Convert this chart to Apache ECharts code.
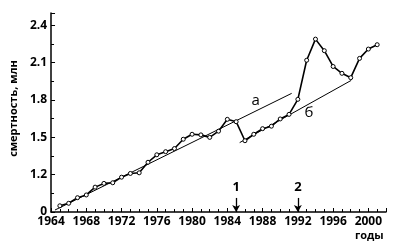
<!DOCTYPE html>
<html><head><meta charset="utf-8">
<script src="https://cdn.jsdelivr.net/npm/echarts@6/dist/echarts.min.js"></script>
<style>html,body{margin:0;padding:0;background:#fff}#c{width:393px;height:250px}</style>
</head><body><div id="c"></div>
<script>
const years = [1965,1966,1967,1968,1969,1970,1971,1972,1973,1974,1975,1976,1977,1978,1979,1980,1981,1982,1983,1984,1985,1986,1987,1988,1989,1990,1991,1992,1993,1994,1995,1996,1997,1998,1999,2000,2001];
const deaths = [0.95,0.97,1.015,1.037,1.10,1.13,1.135,1.18,1.21,1.215,1.30,1.36,1.385,1.41,1.485,1.525,1.52,1.50,1.55,1.645,1.626,1.473,1.525,1.57,1.59,1.648,1.685,1.806,2.12,2.29,2.197,2.07,2.015,1.98,2.135,2.21,2.245];
const trendA = [[1964.45,0.916],[1991.3,1.854]];
const trendB = [[1985.4,1.458],[1998.05,1.958]];
const trendLabels = [[1987.2,1.792,'а'],[1993.25,1.696,'б']];
const eventYears = [1985,1992];
const eventLabels = ['1','2'];
const xTicks = {min:1964,max:2002,interval:4};
const yTicks = {min:0.9,max:2.5,interval:0.3};

const font = 'Open Sans';
const chart = echarts.init(document.getElementById('c'));
chart.setOption({
  animation:false,
  grid:{left:42,right:7,top:13,bottom:38},
  xAxis:{type:'value',min:xTicks.min,max:xTicks.max,interval:xTicks.interval,
    axisLine:{lineStyle:{color:'#000',width:1.5}},
    axisTick:{inside:true,length:4,lineStyle:{color:'#000'}},
    minorTick:{show:true,splitNumber:4,length:3,lineStyle:{color:'#000'}},
    splitLine:{show:false},
    axisLabel:{color:'#000',fontFamily:font,fontSize:12,fontWeight:'bold',margin:4,showMaxLabel:false,formatter:v=>String(v)}},
  yAxis:{type:'value',min:yTicks.min,max:yTicks.max,interval:yTicks.interval,
    name:'смертность, млн',nameLocation:'middle',nameGap:25,nameRotate:90,
    nameTextStyle:{color:'#000',fontFamily:font,fontSize:11,fontWeight:'bold',padding:[0,0,0,8]},
    axisLine:{show:true,lineStyle:{color:'#000',width:1.5}},
    axisTick:{show:true,inside:true,length:4,lineStyle:{color:'#000'}},
    minorTick:{show:true,splitNumber:2,length:3,lineStyle:{color:'#000'}},
    splitLine:{show:false},
    axisLabel:{color:'#000',fontFamily:font,fontSize:12,fontWeight:'bold',margin:4,showMaxLabel:false,
      formatter:v=> v<1 ? '0' : v.toFixed(1)}},
  series:[
    {type:'line',data:trendA,symbol:'none',lineStyle:{color:'#000',width:1},z:1},
    {type:'line',data:trendB,symbol:'none',lineStyle:{color:'#000',width:1},z:1},
    {type:'line',data:years.map((y,i)=>[y,deaths[i]]),symbol:'circle',symbolSize:4,
      itemStyle:{color:'#fff',borderColor:'#000',borderWidth:1},
      lineStyle:{color:'#000',width:1.6},z:3},
    {type:'scatter',data:trendLabels.map(d=>[d[0],d[1]]),symbolSize:0,itemStyle:{opacity:1},
      label:{show:true,position:'inside',color:'#000',fontFamily:font,fontSize:15,
        formatter:p=>trendLabels[p.dataIndex][2]}},
    {type:'scatter',data:eventYears.map(y=>[y,1.095]),symbolSize:0,itemStyle:{opacity:1},
      label:{show:true,position:'inside',color:'#000',fontFamily:font,fontSize:13,fontWeight:'bold',
        formatter:p=>eventLabels[p.dataIndex]},
      markLine:{silent:true,symbol:['none','arrow'],symbolSize:[6,7],
        lineStyle:{color:'#000',width:1.3,type:'solid'},label:{show:false},
        data:eventYears.map(y=>[{coord:[y,1.013]},{coord:[y,0.9]}])}}
  ],
  graphic:[{type:'text',left:355,top:230,style:{text:'годы',fill:'#000',font:'bold 11px "Open Sans"'}}]
});
</script></body></html>
